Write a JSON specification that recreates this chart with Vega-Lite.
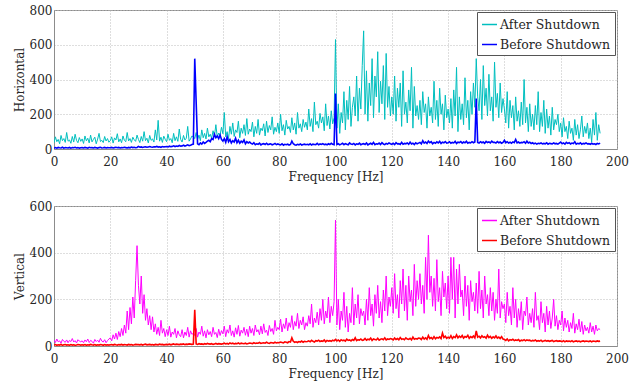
{
"$schema":"https://vega.github.io/schema/vega-lite/v6.json",
"padding":{"left":12,"top":3,"right":5,"bottom":3},
"spacing":16,
"config":{"font":"DejaVu Serif","view":{"stroke":"#8c8c8c"},
"axis":{"labelFont":"DejaVu Serif","labelFontSize":12,"labelColor":"#262626","titleFont":"DejaVu Serif","titleFontSize":12,"titleFontWeight":"normal","titleColor":"#262626","gridDash":[1,2],"gridColor":"#bdbdbd","domainColor":"#8c8c8c","ticks":false,"labelFlush":false},
"axisX":{"labelPadding":7,"titlePadding":4},
"axisY":{"labelPadding":2,"titlePadding":3},
"legend":{"labelFont":"DejaVu Serif","labelFontSize":12.5,"labelColor":"#262626"}},
"resolve":{"scale":{"color":"independent"},"legend":{"color":"independent"}},
"datasets":{"d":[
{"f":0,"ha":35,"hb":6,"va":25,"vb":4},{"f":0.5,"ha":70,"hb":8,"va":15,"vb":6},{"f":1,"ha":42,"hb":5,"va":30,"vb":3},{"f":1.5,"ha":55,"hb":9,"va":18,"vb":5},{"f":2,"ha":30,"hb":7,"va":22,"vb":4},{"f":2.5,"ha":78,"hb":6,"va":12,"vb":7},{"f":3,"ha":48,"hb":10,"va":28,"vb":3},{"f":3.5,"ha":60,"hb":5,"va":20,"vb":5},{"f":4,"ha":38,"hb":8,"va":16,"vb":6},{"f":4.5,"ha":95,"hb":7,"va":26,"vb":4},
{"f":5,"ha":45,"hb":6,"va":14,"vb":5},{"f":5.5,"ha":52,"hb":9,"va":24,"vb":3},{"f":6,"ha":33,"hb":5,"va":19,"vb":6},{"f":6.5,"ha":72,"hb":8,"va":32,"vb":4},{"f":7,"ha":40,"hb":7,"va":17,"vb":5},{"f":7.5,"ha":85,"hb":10,"va":23,"vb":3},{"f":8,"ha":50,"hb":6,"va":13,"vb":4},{"f":8.5,"ha":36,"hb":8,"va":27,"vb":6},{"f":9,"ha":66,"hb":5,"va":21,"vb":5},{"f":9.5,"ha":44,"hb":7,"va":18,"vb":4},
{"f":10,"ha":58,"hb":8,"va":22,"vb":5},{"f":10.5,"ha":32,"hb":6,"va":14,"vb":4},{"f":11,"ha":75,"hb":9,"va":26,"vb":6},{"f":11.5,"ha":47,"hb":7,"va":18,"vb":3},{"f":12,"ha":62,"hb":5,"va":30,"vb":5},{"f":12.5,"ha":35,"hb":10,"va":15,"vb":4},{"f":13,"ha":80,"hb":7,"va":24,"vb":7},{"f":13.5,"ha":41,"hb":8,"va":20,"vb":5},{"f":14,"ha":55,"hb":6,"va":12,"vb":4},{"f":14.5,"ha":68,"hb":9,"va":28,"vb":6},
{"f":15,"ha":30,"hb":7,"va":19,"vb":3},{"f":15.5,"ha":57,"hb":5,"va":25,"vb":5},{"f":16,"ha":90,"hb":8,"va":16,"vb":4},{"f":16.5,"ha":43,"hb":10,"va":33,"vb":6},{"f":17,"ha":50,"hb":6,"va":21,"vb":5},{"f":17.5,"ha":37,"hb":7,"va":17,"vb":3},{"f":18,"ha":72,"hb":9,"va":27,"vb":6},{"f":18.5,"ha":46,"hb":6,"va":14,"vb":4},{"f":19,"ha":60,"hb":8,"va":23,"vb":5},{"f":19.5,"ha":39,"hb":7,"va":30,"vb":4},
{"f":20,"ha":48,"hb":7,"va":35,"vb":5},{"f":20.5,"ha":70,"hb":9,"va":22,"vb":6},{"f":21,"ha":34,"hb":6,"va":48,"vb":4},{"f":21.5,"ha":64,"hb":8,"va":30,"vb":7},{"f":22,"ha":52,"hb":10,"va":55,"vb":5},{"f":22.5,"ha":88,"hb":7,"va":28,"vb":4},{"f":23,"ha":41,"hb":9,"va":62,"vb":6},{"f":23.5,"ha":58,"hb":6,"va":40,"vb":5},{"f":24,"ha":36,"hb":8,"va":75,"vb":7},{"f":24.5,"ha":75,"hb":7,"va":45,"vb":4},
{"f":25,"ha":50,"hb":10,"va":90,"vb":6},{"f":25.5,"ha":42,"hb":8,"va":55,"vb":5},{"f":26,"ha":95,"hb":6,"va":150,"vb":4},{"f":26.5,"ha":46,"hb":9,"va":70,"vb":7},{"f":27,"ha":60,"hb":7,"va":165,"vb":5},{"f":27.5,"ha":38,"hb":11,"va":95,"vb":6},{"f":28,"ha":68,"hb":8,"va":210,"vb":4},{"f":28.5,"ha":53,"hb":10,"va":120,"vb":5},{"f":29,"ha":44,"hb":7,"va":280,"vb":7},{"f":29.5,"ha":80,"hb":9,"va":430,"vb":6},
{"f":30,"ha":55,"hb":15,"va":260,"vb":6},{"f":30.5,"ha":37,"hb":10,"va":180,"vb":5},{"f":31,"ha":72,"hb":12,"va":300,"vb":7},{"f":31.5,"ha":45,"hb":9,"va":140,"vb":4},{"f":32,"ha":100,"hb":11,"va":220,"vb":6},{"f":32.5,"ha":48,"hb":13,"va":110,"vb":8},{"f":33,"ha":62,"hb":10,"va":160,"vb":5},{"f":33.5,"ha":35,"hb":12,"va":90,"vb":6},{"f":34,"ha":78,"hb":14,"va":130,"vb":7},{"f":34.5,"ha":50,"hb":11,"va":70,"vb":5},
{"f":35,"ha":58,"hb":10,"va":125,"vb":6},{"f":35.5,"ha":40,"hb":13,"va":60,"vb":4},{"f":36,"ha":110,"hb":12,"va":95,"vb":7},{"f":36.5,"ha":52,"hb":15,"va":50,"vb":6},{"f":37,"ha":165,"hb":11,"va":80,"vb":5},{"f":37.5,"ha":45,"hb":13,"va":45,"vb":8},{"f":38,"ha":68,"hb":10,"va":110,"vb":6},{"f":38.5,"ha":38,"hb":14,"va":55,"vb":7},{"f":39,"ha":74,"hb":12,"va":75,"vb":5},{"f":39.5,"ha":56,"hb":13,"va":40,"vb":6},
{"f":40,"ha":42,"hb":14,"va":70,"vb":7},{"f":40.5,"ha":85,"hb":12,"va":45,"vb":6},{"f":41,"ha":50,"hb":16,"va":85,"vb":8},{"f":41.5,"ha":60,"hb":13,"va":38,"vb":5},{"f":42,"ha":36,"hb":15,"va":60,"vb":7},{"f":42.5,"ha":90,"hb":18,"va":50,"vb":9},{"f":43,"ha":48,"hb":14,"va":75,"vb":6},{"f":43.5,"ha":70,"hb":17,"va":35,"vb":8},{"f":44,"ha":44,"hb":15,"va":65,"vb":7},{"f":44.5,"ha":115,"hb":20,"va":48,"vb":6},
{"f":45,"ha":55,"hb":16,"va":40,"vb":8},{"f":45.5,"ha":40,"hb":18,"va":70,"vb":7},{"f":46,"ha":78,"hb":22,"va":35,"vb":9},{"f":46.5,"ha":52,"hb":17,"va":60,"vb":6},{"f":47,"ha":62,"hb":20,"va":45,"vb":8},{"f":47.5,"ha":130,"hb":24,"va":80,"vb":7},{"f":48,"ha":45,"hb":19,"va":38,"vb":9},{"f":48.5,"ha":58,"hb":22,"va":65,"vb":8},{"f":49,"ha":75,"hb":26,"va":50,"vb":7},{"f":49.5,"ha":70,"hb":28,"va":55,"vb":8},
{"f":50,"ha":60,"hb":520,"va":45,"vb":155},{"f":50.5,"ha":95,"hb":270,"va":75,"vb":9},{"f":51,"ha":55,"hb":30,"va":38,"vb":7},{"f":51.5,"ha":80,"hb":25,"va":60,"vb":10},{"f":52,"ha":48,"hb":35,"va":50,"vb":8},{"f":52.5,"ha":110,"hb":28,"va":85,"vb":9},{"f":53,"ha":65,"hb":40,"va":42,"vb":7},{"f":53.5,"ha":90,"hb":32,"va":65,"vb":10},{"f":54,"ha":58,"hb":38,"va":35,"vb":8},{"f":54.5,"ha":120,"hb":45,"va":70,"vb":11},
{"f":55,"ha":70,"hb":50,"va":48,"vb":9},{"f":55.5,"ha":85,"hb":42,"va":62,"vb":8},{"f":56,"ha":62,"hb":60,"va":40,"vb":10},{"f":56.5,"ha":105,"hb":55,"va":80,"vb":7},{"f":57,"ha":75,"hb":85,"va":50,"vb":9},{"f":57.5,"ha":140,"hb":65,"va":58,"vb":11},{"f":58,"ha":68,"hb":75,"va":36,"vb":8},{"f":58.5,"ha":92,"hb":60,"va":72,"vb":10},{"f":59,"ha":80,"hb":80,"va":45,"vb":9},{"f":59.5,"ha":125,"hb":55,"va":66,"vb":8},
{"f":60,"ha":88,"hb":45,"va":52,"vb":10},{"f":60.5,"ha":210,"hb":60,"va":85,"vb":12},{"f":61,"ha":70,"hb":38,"va":40,"vb":9},{"f":61.5,"ha":100,"hb":70,"va":70,"vb":11},{"f":62,"ha":60,"hb":42,"va":55,"vb":8},{"f":62.5,"ha":130,"hb":55,"va":90,"vb":13},{"f":63,"ha":85,"hb":35,"va":45,"vb":10},{"f":63.5,"ha":150,"hb":48,"va":65,"vb":12},{"f":64,"ha":72,"hb":40,"va":38,"vb":9},{"f":64.5,"ha":110,"hb":62,"va":78,"vb":11},
{"f":65,"ha":95,"hb":36,"va":50,"vb":10},{"f":65.5,"ha":160,"hb":50,"va":88,"vb":13},{"f":66,"ha":65,"hb":33,"va":42,"vb":9},{"f":66.5,"ha":120,"hb":45,"va":68,"vb":12},{"f":67,"ha":90,"hb":38,"va":55,"vb":11},{"f":67.5,"ha":140,"hb":52,"va":80,"vb":10},{"f":68,"ha":78,"hb":30,"va":46,"vb":12},{"f":68.5,"ha":175,"hb":42,"va":72,"vb":9},{"f":69,"ha":85,"hb":35,"va":40,"vb":11},{"f":69.5,"ha":115,"hb":40,"va":85,"vb":13},
{"f":70,"ha":100,"hb":32,"va":55,"vb":12},{"f":70.5,"ha":155,"hb":28,"va":75,"vb":10},{"f":71,"ha":70,"hb":36,"va":45,"vb":14},{"f":71.5,"ha":130,"hb":25,"va":90,"vb":11},{"f":72,"ha":90,"hb":30,"va":60,"vb":13},{"f":72.5,"ha":170,"hb":27,"va":70,"vb":12},{"f":73,"ha":80,"hb":34,"va":48,"vb":15},{"f":73.5,"ha":120,"hb":24,"va":85,"vb":11},{"f":74,"ha":105,"hb":29,"va":52,"vb":13},{"f":74.5,"ha":145,"hb":31,"va":95,"vb":14},
{"f":75,"ha":75,"hb":26,"va":58,"vb":12},{"f":75.5,"ha":160,"hb":33,"va":68,"vb":16},{"f":76,"ha":95,"hb":25,"va":45,"vb":13},{"f":76.5,"ha":135,"hb":28,"va":88,"vb":11},{"f":77,"ha":110,"hb":30,"va":62,"vb":15},{"f":77.5,"ha":185,"hb":24,"va":75,"vb":14},{"f":78,"ha":85,"hb":27,"va":50,"vb":12},{"f":78.5,"ha":125,"hb":32,"va":110,"vb":16},{"f":79,"ha":100,"hb":25,"va":65,"vb":13},{"f":79.5,"ha":150,"hb":29,"va":80,"vb":15},
{"f":80,"ha":90,"hb":26,"va":70,"vb":14},{"f":80.5,"ha":200,"hb":24,"va":115,"vb":17},{"f":81,"ha":105,"hb":30,"va":60,"vb":15},{"f":81.5,"ha":140,"hb":22,"va":95,"vb":13},{"f":82,"ha":80,"hb":27,"va":75,"vb":18},{"f":82.5,"ha":165,"hb":25,"va":120,"vb":16},{"f":83,"ha":115,"hb":28,"va":65,"vb":14},{"f":83.5,"ha":130,"hb":23,"va":100,"vb":19},{"f":84,"ha":95,"hb":26,"va":80,"vb":17},{"f":84.5,"ha":180,"hb":45,"va":130,"vb":35},
{"f":85,"ha":110,"hb":30,"va":70,"vb":20},{"f":85.5,"ha":150,"hb":25,"va":105,"vb":16},{"f":86,"ha":85,"hb":22,"va":85,"vb":18},{"f":86.5,"ha":210,"hb":27,"va":140,"vb":15},{"f":87,"ha":120,"hb":24,"va":75,"vb":19},{"f":87.5,"ha":145,"hb":29,"va":110,"vb":17},{"f":88,"ha":100,"hb":23,"va":90,"vb":21},{"f":88.5,"ha":170,"hb":26,"va":125,"vb":16},{"f":89,"ha":125,"hb":28,"va":70,"vb":20},{"f":89.5,"ha":155,"hb":25,"va":100,"vb":18},
{"f":90,"ha":110,"hb":27,"va":85,"vb":19},{"f":90.5,"ha":230,"hb":24,"va":130,"vb":22},{"f":91,"ha":130,"hb":30,"va":95,"vb":18},{"f":91.5,"ha":175,"hb":23,"va":180,"vb":24},{"f":92,"ha":100,"hb":28,"va":80,"vb":20},{"f":92.5,"ha":270,"hb":26,"va":120,"vb":17},{"f":93,"ha":140,"hb":25,"va":100,"vb":23},{"f":93.5,"ha":160,"hb":32,"va":145,"vb":21},{"f":94,"ha":120,"hb":24,"va":90,"vb":25},{"f":94.5,"ha":205,"hb":29,"va":160,"vb":19},
{"f":95,"ha":150,"hb":26,"va":110,"vb":22},{"f":95.5,"ha":185,"hb":31,"va":200,"vb":20},{"f":96,"ha":105,"hb":25,"va":95,"vb":26},{"f":96.5,"ha":260,"hb":28,"va":150,"vb":18},{"f":97,"ha":135,"hb":24,"va":120,"vb":24},{"f":97.5,"ha":190,"hb":30,"va":210,"vb":21},{"f":98,"ha":115,"hb":26,"va":100,"vb":23},{"f":98.5,"ha":220,"hb":33,"va":170,"vb":20},{"f":99,"ha":145,"hb":27,"va":130,"vb":25},{"f":99.5,"ha":180,"hb":25,"va":190,"vb":22},
{"f":100,"ha":630,"hb":320,"va":540,"vb":28},{"f":100.5,"ha":120,"hb":26,"va":90,"vb":22},{"f":101,"ha":260,"hb":30,"va":200,"vb":26},{"f":101.5,"ha":90,"hb":24,"va":70,"vb":20},{"f":102,"ha":210,"hb":28,"va":150,"vb":27},{"f":102.5,"ha":150,"hb":33,"va":110,"vb":23},{"f":103,"ha":330,"hb":25,"va":230,"vb":25},{"f":103.5,"ha":110,"hb":31,"va":80,"vb":21},{"f":104,"ha":280,"hb":27,"va":170,"vb":29},{"f":104.5,"ha":170,"hb":24,"va":60,"vb":24},
{"f":105,"ha":360,"hb":35,"va":140,"vb":26},{"f":105.5,"ha":130,"hb":28,"va":100,"vb":22},{"f":106,"ha":240,"hb":26,"va":250,"vb":28},{"f":106.5,"ha":300,"hb":32,"va":90,"vb":24},{"f":107,"ha":190,"hb":24,"va":180,"vb":35},{"f":107.5,"ha":420,"hb":30,"va":120,"vb":23},{"f":108,"ha":160,"hb":27,"va":220,"vb":27},{"f":108.5,"ha":350,"hb":34,"va":95,"vb":25},{"f":109,"ha":230,"hb":25,"va":160,"vb":30},{"f":109.5,"ha":480,"hb":29,"va":130,"vb":24},
{"f":110,"ha":680,"hb":31,"va":150,"vb":26},{"f":110.5,"ha":200,"hb":26,"va":90,"vb":32},{"f":111,"ha":450,"hb":35,"va":200,"vb":25},{"f":111.5,"ha":160,"hb":24,"va":110,"vb":29},{"f":112,"ha":380,"hb":29,"va":250,"vb":27},{"f":112.5,"ha":250,"hb":33,"va":130,"vb":34},{"f":113,"ha":520,"hb":27,"va":180,"vb":24},{"f":113.5,"ha":180,"hb":38,"va":85,"vb":30},{"f":114,"ha":420,"hb":25,"va":220,"vb":28},{"f":114.5,"ha":300,"hb":30,"va":140,"vb":26},
{"f":115,"ha":560,"hb":28,"va":260,"vb":33},{"f":115.5,"ha":210,"hb":34,"va":120,"vb":25},{"f":116,"ha":390,"hb":26,"va":190,"vb":29},{"f":116.5,"ha":260,"hb":36,"va":100,"vb":31},{"f":117,"ha":480,"hb":29,"va":240,"vb":27},{"f":117.5,"ha":170,"hb":25,"va":150,"vb":35},{"f":118,"ha":550,"hb":32,"va":300,"vb":26},{"f":118.5,"ha":240,"hb":28,"va":130,"vb":30},{"f":119,"ha":360,"hb":35,"va":210,"vb":28},{"f":119.5,"ha":190,"hb":30,"va":170,"vb":32},
{"f":120,"ha":300,"hb":27,"va":250,"vb":30},{"f":120.5,"ha":200,"hb":33,"va":140,"vb":26},{"f":121,"ha":420,"hb":25,"va":310,"vb":34},{"f":121.5,"ha":160,"hb":36,"va":160,"vb":28},{"f":122,"ha":350,"hb":29,"va":220,"vb":32},{"f":122.5,"ha":240,"hb":31,"va":120,"vb":27},{"f":123,"ha":380,"hb":26,"va":280,"vb":36},{"f":123.5,"ha":130,"hb":38,"va":180,"vb":29},{"f":124,"ha":450,"hb":28,"va":330,"vb":31},{"f":124.5,"ha":200,"hb":32,"va":150,"vb":27},
{"f":125,"ha":270,"hb":30,"va":260,"vb":35},{"f":125.5,"ha":150,"hb":35,"va":110,"vb":30},{"f":126,"ha":340,"hb":27,"va":300,"vb":28},{"f":126.5,"ha":220,"hb":40,"va":190,"vb":33},{"f":127,"ha":470,"hb":29,"va":240,"vb":26},{"f":127.5,"ha":120,"hb":33,"va":130,"vb":38},{"f":128,"ha":360,"hb":26,"va":350,"vb":29},{"f":128.5,"ha":190,"hb":36,"va":170,"vb":32},{"f":129,"ha":250,"hb":30,"va":280,"vb":30},{"f":129.5,"ha":170,"hb":34,"va":200,"vb":34},
{"f":130,"ha":280,"hb":38,"va":310,"vb":33},{"f":130.5,"ha":140,"hb":30,"va":180,"vb":28},{"f":131,"ha":330,"hb":48,"va":260,"vb":38},{"f":131.5,"ha":210,"hb":34,"va":140,"vb":30},{"f":132,"ha":260,"hb":40,"va":380,"vb":35},{"f":132.5,"ha":120,"hb":32,"va":200,"vb":29},{"f":133,"ha":300,"hb":45,"va":475,"vb":45},{"f":133.5,"ha":190,"hb":36,"va":230,"vb":32},{"f":134,"ha":240,"hb":42,"va":300,"vb":36},{"f":134.5,"ha":150,"hb":30,"va":170,"vb":30},
{"f":135,"ha":390,"hb":38,"va":290,"vb":40},{"f":135.5,"ha":170,"hb":33,"va":150,"vb":31},{"f":136,"ha":280,"hb":41,"va":370,"vb":37},{"f":136.5,"ha":130,"hb":35,"va":190,"vb":34},{"f":137,"ha":350,"hb":44,"va":250,"vb":39},{"f":137.5,"ha":200,"hb":32,"va":130,"vb":32},{"f":138,"ha":260,"hb":39,"va":320,"vb":55},{"f":138.5,"ha":110,"hb":36,"va":210,"vb":36},{"f":139,"ha":310,"hb":43,"va":270,"vb":42},{"f":139.5,"ha":180,"hb":34,"va":160,"vb":33},
{"f":140,"ha":230,"hb":36,"va":300,"vb":38},{"f":140.5,"ha":150,"hb":42,"va":140,"vb":34},{"f":141,"ha":290,"hb":33,"va":380,"vb":44},{"f":141.5,"ha":120,"hb":38,"va":200,"vb":32},{"f":142,"ha":340,"hb":35,"va":380,"vb":40},{"f":142.5,"ha":190,"hb":44,"va":120,"vb":36},{"f":143,"ha":470,"hb":32,"va":330,"vb":48},{"f":143.5,"ha":100,"hb":39,"va":180,"vb":35},{"f":144,"ha":300,"hb":37,"va":350,"vb":42},{"f":144.5,"ha":170,"hb":43,"va":210,"vb":37},
{"f":145,"ha":260,"hb":34,"va":240,"vb":45},{"f":145.5,"ha":140,"hb":40,"va":130,"vb":34},{"f":146,"ha":410,"hb":36,"va":300,"vb":41},{"f":146.5,"ha":180,"hb":45,"va":170,"vb":38},{"f":147,"ha":280,"hb":33,"va":260,"vb":46},{"f":147.5,"ha":110,"hb":38,"va":110,"vb":33},{"f":148,"ha":330,"hb":35,"va":280,"vb":40},{"f":148.5,"ha":200,"hb":42,"va":190,"vb":36},{"f":149,"ha":380,"hb":36,"va":230,"vb":43},{"f":149.5,"ha":240,"hb":40,"va":150,"vb":35},
{"f":150,"ha":520,"hb":290,"va":270,"vb":65},{"f":150.5,"ha":300,"hb":38,"va":140,"vb":38},{"f":151,"ha":220,"hb":34,"va":320,"vb":42},{"f":151.5,"ha":400,"hb":42,"va":160,"vb":35},{"f":152,"ha":170,"hb":36,"va":240,"vb":44},{"f":152.5,"ha":480,"hb":40,"va":120,"vb":37},{"f":153,"ha":250,"hb":33,"va":300,"vb":40},{"f":153.5,"ha":350,"hb":44,"va":180,"vb":34},{"f":154,"ha":190,"hb":37,"va":220,"vb":46},{"f":154.5,"ha":430,"hb":41,"va":130,"vb":36},
{"f":155,"ha":220,"hb":35,"va":250,"vb":41},{"f":155.5,"ha":300,"hb":45,"va":150,"vb":33},{"f":156,"ha":160,"hb":38,"va":230,"vb":39},{"f":156.5,"ha":500,"hb":39,"va":110,"vb":35},{"f":157,"ha":240,"hb":34,"va":200,"vb":43},{"f":157.5,"ha":320,"hb":43,"va":140,"vb":34},{"f":158,"ha":180,"hb":36,"va":330,"vb":38},{"f":158.5,"ha":380,"hb":40,"va":120,"vb":32},{"f":159,"ha":210,"hb":33,"va":190,"vb":40},{"f":159.5,"ha":290,"hb":38,"va":160,"vb":30},
{"f":160,"ha":230,"hb":50,"va":180,"vb":28},{"f":160.5,"ha":150,"hb":36,"va":100,"vb":24},{"f":161,"ha":330,"hb":42,"va":230,"vb":30},{"f":161.5,"ha":120,"hb":34,"va":130,"vb":22},{"f":162,"ha":280,"hb":39,"va":170,"vb":27},{"f":162.5,"ha":180,"hb":33,"va":90,"vb":25},{"f":163,"ha":250,"hb":41,"va":250,"vb":29},{"f":163.5,"ha":110,"hb":37,"va":120,"vb":23},{"f":164,"ha":300,"hb":55,"va":200,"vb":26},{"f":164.5,"ha":160,"hb":35,"va":80,"vb":24},
{"f":165,"ha":220,"hb":40,"va":160,"vb":28},{"f":165.5,"ha":130,"hb":34,"va":110,"vb":21},{"f":166,"ha":270,"hb":38,"va":190,"vb":25},{"f":166.5,"ha":140,"hb":36,"va":70,"vb":23},{"f":167,"ha":400,"hb":42,"va":150,"vb":27},{"f":167.5,"ha":150,"hb":33,"va":130,"vb":22},{"f":168,"ha":240,"hb":45,"va":210,"vb":26},{"f":168.5,"ha":100,"hb":35,"va":90,"vb":24},{"f":169,"ha":260,"hb":39,"va":140,"vb":25},{"f":169.5,"ha":130,"hb":32,"va":100,"vb":21},
{"f":170,"ha":200,"hb":36,"va":160,"vb":24},{"f":170.5,"ha":110,"hb":30,"va":80,"vb":22},{"f":171,"ha":250,"hb":34,"va":230,"vb":26},{"f":171.5,"ha":140,"hb":28,"va":110,"vb":20},{"f":172,"ha":330,"hb":33,"va":130,"vb":23},{"f":172.5,"ha":100,"hb":31,"va":70,"vb":21},{"f":173,"ha":210,"hb":35,"va":190,"vb":25},{"f":173.5,"ha":130,"hb":29,"va":100,"vb":19},{"f":174,"ha":280,"hb":32,"va":140,"vb":22},{"f":174.5,"ha":90,"hb":30,"va":60,"vb":24},
{"f":175,"ha":230,"hb":36,"va":170,"vb":21},{"f":175.5,"ha":120,"hb":28,"va":90,"vb":23},{"f":176,"ha":190,"hb":33,"va":150,"vb":20},{"f":176.5,"ha":80,"hb":31,"va":75,"vb":22},{"f":177,"ha":240,"hb":29,"va":120,"vb":24},{"f":177.5,"ha":110,"hb":35,"va":200,"vb":19},{"f":178,"ha":170,"hb":30,"va":85,"vb":21},{"f":178.5,"ha":140,"hb":32,"va":130,"vb":23},{"f":179,"ha":200,"hb":28,"va":70,"vb":20},{"f":179.5,"ha":100,"hb":34,"va":110,"vb":22},
{"f":180,"ha":150,"hb":40,"va":90,"vb":21},{"f":180.5,"ha":70,"hb":30,"va":150,"vb":19},{"f":181,"ha":180,"hb":35,"va":65,"vb":23},{"f":181.5,"ha":100,"hb":28,"va":120,"vb":18},{"f":182,"ha":130,"hb":38,"va":80,"vb":22},{"f":182.5,"ha":60,"hb":32,"va":110,"vb":20},{"f":183,"ha":160,"hb":36,"va":60,"vb":21},{"f":183.5,"ha":90,"hb":29,"va":100,"vb":19},{"f":184,"ha":120,"hb":34,"va":75,"vb":23},{"f":184.5,"ha":50,"hb":31,"va":140,"vb":18},
{"f":185,"ha":170,"hb":42,"va":55,"vb":20},{"f":185.5,"ha":80,"hb":28,"va":95,"vb":22},{"f":186,"ha":140,"hb":33,"va":70,"vb":19},{"f":186.5,"ha":60,"hb":30,"va":115,"vb":21},{"f":187,"ha":110,"hb":36,"va":60,"vb":18},{"f":187.5,"ha":190,"hb":27,"va":105,"vb":20},{"f":188,"ha":70,"hb":32,"va":50,"vb":22},{"f":188.5,"ha":130,"hb":30,"va":90,"vb":19},{"f":189,"ha":90,"hb":35,"va":65,"vb":21},{"f":189.5,"ha":150,"hb":29,"va":80,"vb":20},
{"f":190,"ha":60,"hb":31,"va":55,"vb":19},{"f":190.5,"ha":120,"hb":27,"va":100,"vb":22},{"f":191,"ha":40,"hb":33,"va":60,"vb":18},{"f":191.5,"ha":170,"hb":28,"va":85,"vb":21},{"f":192,"ha":80,"hb":30,"va":50,"vb":20},{"f":192.5,"ha":210,"hb":26,"va":90,"vb":19},{"f":193,"ha":50,"hb":32,"va":65,"vb":22},{"f":193.5,"ha":140,"hb":29,"va":75,"vb":20},{"f":194,"ha":90,"hb":34,"va":70,"vb":21}
]},
"vconcat":[
{"width":563,"height":139,"data":{"name":"d"},
"encoding":{"x":{"field":"f","type":"quantitative","scale":{"domain":[0,200],"nice":false},"axis":{"title":"Frequency [Hz]","values":[0,20,40,60,80,100,120,140,160,180,200]}}},
"layer":[
{"mark":{"type":"line","strokeWidth":1,"clip":true},"encoding":{"y":{"field":"ha","type":"quantitative","scale":{"domain":[0,800],"nice":false},"axis":{"title":"Horizontal","values":[0,200,400,600,800]}},"color":{"datum":"After Shutdown","type":"nominal","scale":{"domain":["After Shutdown","Before Shutdown"],"range":["#00bfbf","#0000ff"]},"legend":{"title":null,"orient":"top-right","offset":2,"strokeColor":"#555","fillColor":"white","padding":4,"symbolType":"stroke","symbolSize":225,"symbolStrokeWidth":1.5,"rowPadding":5,"labelOffset":2}}}},
{"mark":{"type":"line","strokeWidth":1.6,"clip":true},"encoding":{"y":{"field":"hb","type":"quantitative","scale":{"domain":[0,800],"nice":false},"axis":{"title":"Horizontal","values":[0,200,400,600,800]}},"color":{"datum":"Before Shutdown","type":"nominal"}}}
]},
{"width":563,"height":140,"data":{"name":"d"},
"encoding":{"x":{"field":"f","type":"quantitative","scale":{"domain":[0,200],"nice":false},"axis":{"title":"Frequency [Hz]","values":[0,20,40,60,80,100,120,140,160,180,200]}}},
"layer":[
{"mark":{"type":"line","strokeWidth":1,"clip":true},"encoding":{"y":{"field":"va","type":"quantitative","scale":{"domain":[0,600],"nice":false},"axis":{"title":"Vertical","values":[0,200,400,600]}},"color":{"datum":"After Shutdown","type":"nominal","scale":{"domain":["After Shutdown","Before Shutdown"],"range":["#ff00ff","#ff0000"]},"legend":{"title":null,"orient":"top-right","offset":2,"strokeColor":"#555","fillColor":"white","padding":4,"symbolType":"stroke","symbolSize":225,"symbolStrokeWidth":1.5,"rowPadding":5,"labelOffset":2}}}},
{"mark":{"type":"line","strokeWidth":1.6,"clip":true},"encoding":{"y":{"field":"vb","type":"quantitative","scale":{"domain":[0,600],"nice":false},"axis":{"title":"Vertical","values":[0,200,400,600]}},"color":{"datum":"Before Shutdown","type":"nominal"}}}
]}
]
}
